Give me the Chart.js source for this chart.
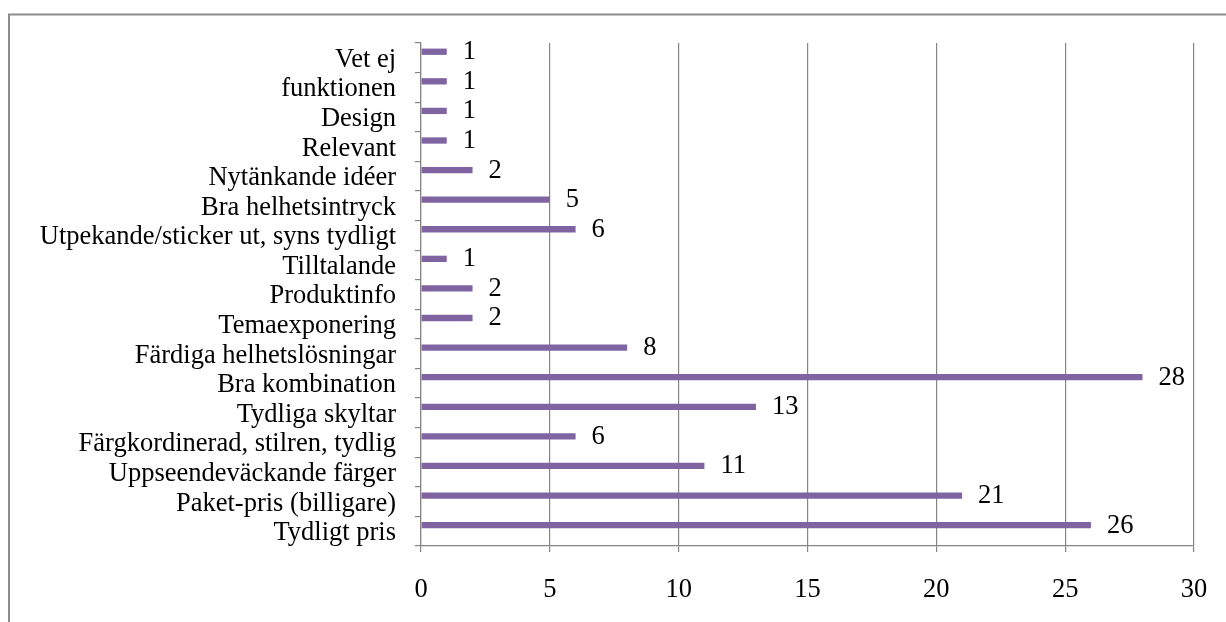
<!DOCTYPE html>
<html>
<head>
<meta charset="utf-8">
<script src="https://cdn.jsdelivr.net/npm/chart.js@4/dist/chart.umd.min.js"></script>
<style>
  html, body { margin: 0; padding: 0; background: #ffffff; }
  canvas { display: block; }
</style>
</head>
<body>
<canvas id="chart" width="1226" height="622"></canvas>
<script>
// Svar, uppifrån och ned
const categories = [
  'Vet ej',
  'funktionen',
  'Design',
  'Relevant',
  'Nytänkande idéer',
  'Bra helhetsintryck',
  'Utpekande/sticker ut, syns tydligt',
  'Tilltalande',
  'Produktinfo',
  'Temaexponering',
  'Färdiga helhetslösningar',
  'Bra kombination',
  'Tydliga skyltar',
  'Färgkordinerad, stilren, tydlig',
  'Uppseendeväckande färger',
  'Paket-pris (billigare)',
  'Tydligt pris'
];

const counts = [1, 1, 1, 1, 2, 5, 6, 1, 2, 2, 8, 28, 13, 6, 11, 21, 26];

const xTicks = [0, 5, 10, 15, 20, 25, 30];

const FONT = '"Liberation Serif", "Times New Roman", serif';
const FONT_SIZE = 26.5;
const GRID = '#858585';
const BAR = '#8064A2';

// Frame around the chart object
const framePlugin = {
  id: 'frame',
  beforeDraw(chart) {
    const ctx = chart.ctx;
    ctx.save();
    ctx.fillStyle = '#ffffff';
    ctx.fillRect(0, 0, chart.width, chart.height);
    ctx.strokeStyle = '#8c8c8c';
    ctx.lineWidth = 2;
    ctx.strokeRect(9, 14.5, chart.width + 40, chart.height + 40);
    ctx.restore();
  }
};

// Value labels to the right of each bar
const valueLabels = {
  id: 'valueLabels',
  afterDatasetsDraw(chart) {
    const ctx = chart.ctx;
    const meta = chart.getDatasetMeta(0);
    ctx.save();
    ctx.font = FONT_SIZE + 'px ' + FONT;
    ctx.fillStyle = '#000000';
    ctx.textAlign = 'left';
    ctx.textBaseline = 'middle';
    meta.data.forEach((bar, i) => {
      ctx.fillText(String(counts[i]), bar.x + 16, bar.y + 0.5);
    });
    ctx.restore();
  }
};

new Chart(document.getElementById('chart'), {
  type: 'bar',
  data: {
    labels: categories,
    datasets: [
      {
        label: 'Antal',
        data: counts,
        backgroundColor: BAR,
        borderWidth: 0,
        categoryPercentage: 0.82,
        barPercentage: 0.52
      },
      {
        label: '',
        data: categories.map(() => null),
        backgroundColor: 'rgba(0,0,0,0)',
        categoryPercentage: 0.82,
        barPercentage: 0.52
      }
    ]
  },
  options: {
    indexAxis: 'y',
    responsive: false,
    animation: false,
    devicePixelRatio: 1,
    layout: { padding: { left: 0, top: 43, right: 32, bottom: 16 } },
    plugins: {
      legend: { display: false },
      tooltip: { enabled: false }
    },
    scales: {
      x: {
        type: 'linear',
        min: 0,
        max: 30,
        afterBuildTicks(scale) {
          scale.ticks = xTicks.map(v => ({ value: v }));
        },
        afterFit(scale) {
          scale.height = 60;
          scale.paddingLeft = 0;
          scale.paddingRight = 0;
        },
        grid: { color: GRID, lineWidth: 1.2, tickLength: 6, drawTicks: true },
        border: { color: GRID, width: 1.2 },
        ticks: {
          font: { family: FONT, size: FONT_SIZE },
          color: '#000000',
          padding: 22,
          maxRotation: 0
        }
      },
      y: {
        type: 'category',
        offset: true,
        afterFit(scale) {
          scale.width = 421;
          scale.paddingTop = 0;
          scale.paddingBottom = 0;
        },
        grid: {
          drawOnChartArea: false,
          offset: true,
          color: GRID,
          lineWidth: 1.2,
          tickLength: 6
        },
        border: { color: GRID, width: 1.2 },
        ticks: {
          font: { family: FONT, size: FONT_SIZE },
          color: '#000000',
          padding: 19,
          labelOffset: 2,
          autoSkip: false
        }
      }
    }
  },
  plugins: [framePlugin, valueLabels]
});
</script>
</body>
</html>
